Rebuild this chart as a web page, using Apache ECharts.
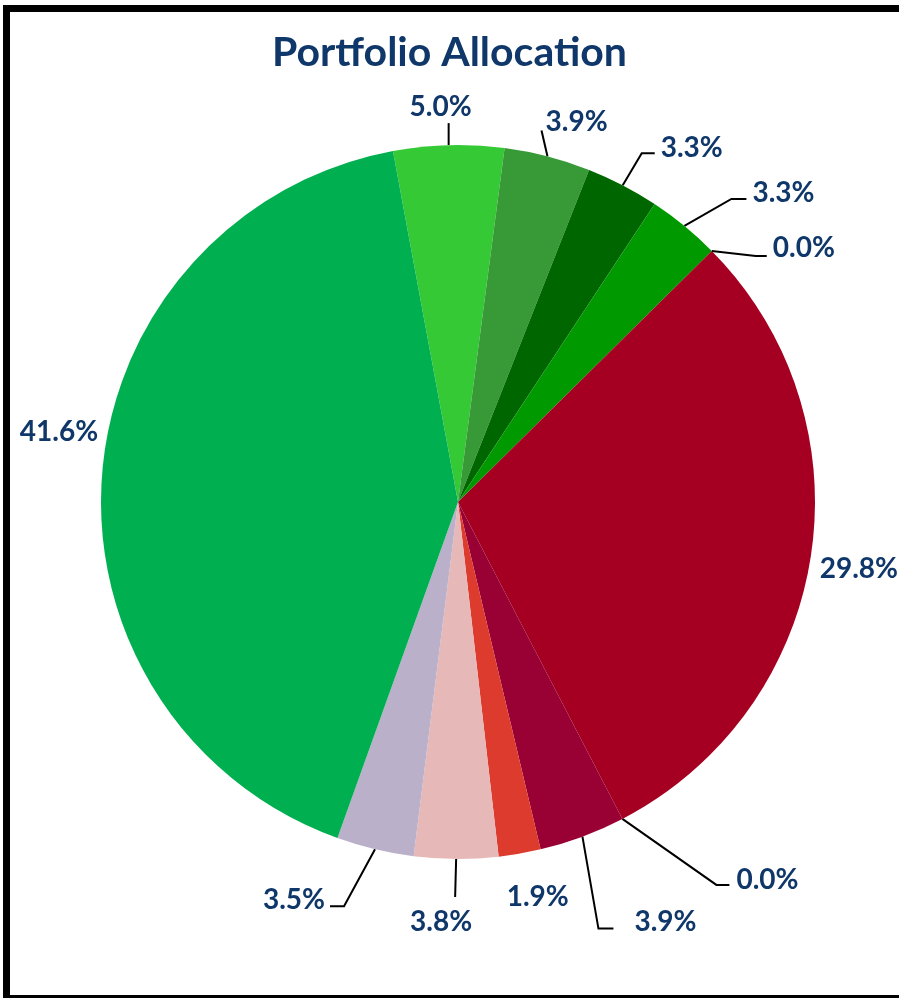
<!DOCTYPE html>
<html>
<head>
<meta charset="utf-8">
<script src="https://cdn.jsdelivr.net/npm/echarts@6/dist/echarts.min.js"></script>
<style>
  html, body { margin: 0; padding: 0; background: #fff; overflow: hidden; }
  #chart { width: 899px; height: 998px; }
</style>
</head>
<body>
<div id="chart"></div>
<script>
// slices, clockwise from the top-left edge of the 5.0% slice
const categories = ['A', 'B', 'C', 'D', 'E', 'F', 'G', 'H', 'I', 'J', 'K', 'L'];
const shares = [5.0, 3.9, 3.3, 3.3, 0.0, 29.8, 0.0, 3.9, 1.9, 3.8, 3.5, 41.6];
const sliceColors = ['#36C936', '#379A37', '#006600', '#009900', '#00A000', '#A50021',
  '#A50021', '#990033', '#DC3B2E', '#E6B8B7', '#BAB0CA', '#00AF50'];

// label placement relative to the slice edge point: [knee, lineEnd, label, align]
// null knee means no leader line
const labelPlace = [
  [[0, -22], [0, -22], [-8, -38], 'center'],
  [[-6, -26], [-6, -26], [-2, -34], 'left'],
  [[19, -32], [32, -32], [38, -37], 'left'],
  [[47, -27], [62, -27], [68, -33], 'left'],
  [[44, 5], [55, 5], [61, -3], 'left'],
  [null, null, [9, 11], 'left'],
  [[94, 66], [107, 66], [114, 61], 'left'],
  [[16, 92], [31, 92], [52, 85], 'left'],
  [null, null, [18, 43], 'center'],
  [[-1, 38], [-1, 38], [-15, 63], 'center'],
  [[-31, 57], [-45, 57], [-50, 51], 'right'],
  [null, null, [-4, -41], 'right']
];

const navy = '#0F3769';
const chart = echarts.init(document.getElementById('chart'));

chart.setOption({
  backgroundColor: '#fff',
  animation: false,
  title: {
    text: 'Portfolio Allocation',
    left: 'center',
    top: 27,
    textStyle: { fontFamily: 'Lato', fontWeight: 'bold', fontSize: 41, color: navy }
  },
  graphic: [{
    type: 'rect',
    shape: { x: 6.5, y: 8.5, width: 960, height: 990 },
    style: { fill: 'none', stroke: '#000', lineWidth: 7 },
    silent: true
  }],
  series: [{
    type: 'pie',
    center: [458, 502],
    radius: 357,
    startAngle: 100.5,
    clockwise: true,
    avoidLabelOverlap: false,
    itemStyle: { borderWidth: 0 },
    label: {
      show: true,
      position: 'outside',
      formatter: p => p.value.toFixed(1) + '%',
      fontFamily: 'Lato',
      fontWeight: 'bold',
      fontSize: 28,
      color: navy
    },
    labelLine: {
      show: true,
      length: 20,
      length2: 10,
      smooth: false,
      lineStyle: { color: '#000', width: 2 }
    },
    labelLayout: function (params) {
      const pts = params.labelLinePoints;
      const pl = labelPlace[params.dataIndex];
      const e = pts[0];
      const out = {
        x: e[0] + pl[2][0],
        y: e[1] + pl[2][1],
        align: pl[3],
        verticalAlign: 'middle'
      };
      if (pl[0]) {
        out.labelLinePoints = [
          [e[0], e[1]],
          [e[0] + pl[0][0], e[1] + pl[0][1]],
          [e[0] + pl[1][0], e[1] + pl[1][1]]
        ];
      } else {
        out.labelLinePoints = [[e[0], e[1]], [e[0], e[1]], [e[0], e[1]]];
      }
      return out;
    },
    data: categories.map((c, i) => ({
      name: c,
      value: shares[i],
      itemStyle: { color: sliceColors[i] }
    }))
  }]
});
</script>
</body>
</html>
